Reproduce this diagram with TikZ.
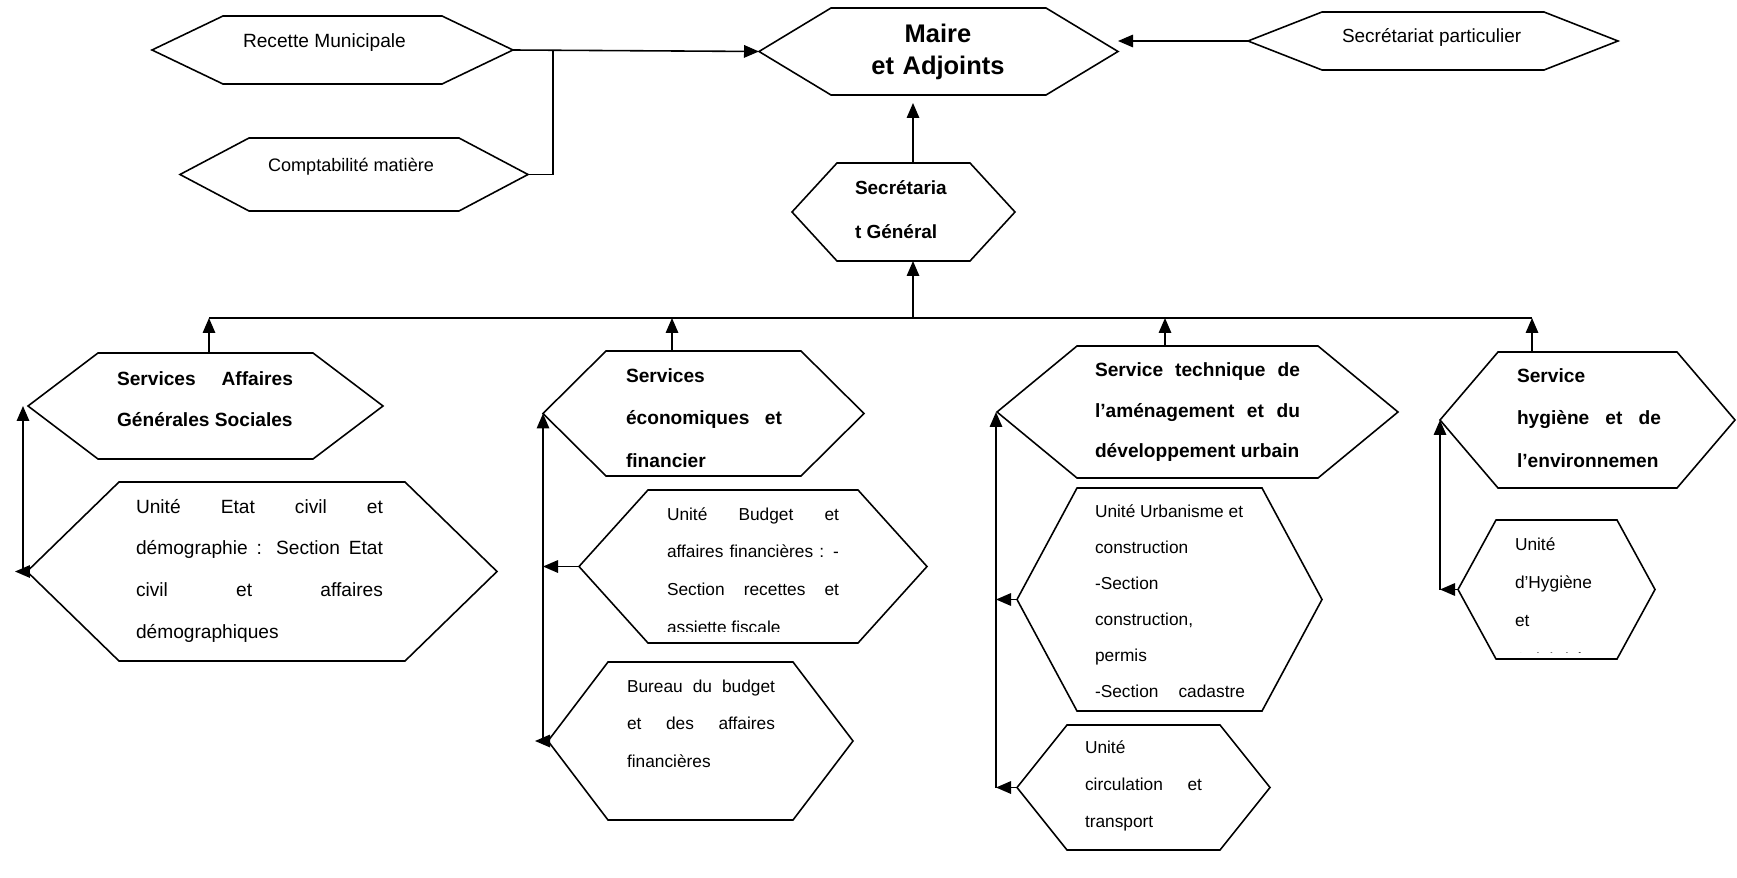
\documentclass[tikz,border=0pt]{standalone}
\usepackage{fontspec}
\setmainfont{Liberation Sans}
\usetikzlibrary{arrows.meta}
\usetikzlibrary{calc}
\usetikzlibrary{fit}
\hyphenpenalty=10000
\exhyphenpenalty=10000

\tikzset{
	frame/.style={inner sep=0pt,outer sep=0pt},
	line/.style={line width=0.9pt},
	arr/.style={line,-{Triangle[length=0.3cm,width=0.25cm]}},
	txt/.style={inner sep=0pt,outer sep=0pt,anchor=base west,align=justify},
	plain/.style={txt,text width=5cm,font=\fontsize{10.8pt}{13pt}\selectfont},
	head/.style={txt,font=\bfseries\fontsize{10.9pt}{23.9pt}\selectfont},
	unit/.style={txt,font=\fontsize{9.85pt}{21.6pt}\selectfont},
}

\begin{document}
\begin{tikzpicture}[x=0.02cm,y=-0.02cm]
	\useasboundingbox (0,0) rectangle (1737,878);

	% hexagon frames
	\node[frame,fit={(152,16) (513,84)}] (recette) {};
	\node[frame,fit={(180,138) (528,211)}] (compta) {};
	\node[frame,fit={(759,8) (1118,95)}] (maire) {};
	\node[frame,fit={(1248,12) (1618,70)}] (partic) {};
	\node[frame,fit={(792,163) (1015,261)}] (sg) {};
	\node[frame,fit={(28,353) (383,459)}] (sags) {};
	\node[frame,fit={(27,482) (497,661)}] (etat) {};
	\node[frame,fit={(543,351) (864,476)}] (sef) {};
	\node[frame,fit={(579,490) (927,643)}] (budget) {};
	\node[frame,fit={(548,662) (853,820)}] (bureau) {};
	\node[frame,fit={(997,346) (1398,478)}] (stadu) {};
	\node[frame,fit={(1017,488) (1322,711)}] (urba) {};
	\node[frame,fit={(1017,725) (1270,850)}] (circ) {};
	\node[frame,fit={(1440,352) (1735,488)}] (she) {};
	\node[frame,fit={(1458,520) (1655,659)}] (hyg) {};

	\foreach \n/\d in {recette/71,compta/69,maire/72,partic/74,sg/45,sags/70,etat/92,sef/63,budget/69,bureau/60,stadu/80,urba/60,circ/50,she/58,hyg/38}
		\draw[line] (\n.west) -- ($(\n.north west)+(\d,0)$) -- ($(\n.north east)-(\d,0)$) -- (\n.east) -- ($(\n.south east)-(\d,0)$) -- ($(\n.south west)+(\d,0)$) -- cycle;

	% texts
	\node[plain,font=\fontsize{10.9pt}{13pt}\selectfont] (recette-t) at (243,48) {Recette Municipale};
	\node[plain,font=\fontsize{10.3pt}{13pt}\selectfont] (compta-t) at (268,172) {Comptabilité matière};
	\node[txt,anchor=base,align=center,text width=6cm,font=\bfseries\fontsize{14.5pt}{18.2pt}\selectfont] (maire-t) at (938,43) {Maire\\et Adjoints};
	\node[plain] (partic-t) at (1342,43) {Secrétariat particulier};
	\node[head,text width=3cm,font=\bfseries\fontsize{10.8pt}{24.5pt}\selectfont] (sg-t) at (855,195) {Secrétaria\\t Général};

	\node[head,text width=3.52cm] (sags-t) at (117,385) {Services Affaires\linebreak Générales Sociales};
	\node[txt,text width=4.94cm,font=\fontsize{10.9pt}{23.9pt}\selectfont] (etat-t) at (136,513) {Unité Etat civil et\linebreak démographie : Section Etat\linebreak civil et affaires\linebreak démographiques};

	\node[head,text width=3.12cm,font=\bfseries\fontsize{10.9pt}{24.2pt}\selectfont] (sef-t) at (626,382) {Services\\économiques et\linebreak financier};
	\begin{scope}
		\clip (600,480) rectangle (900,631);
		\node[unit,text width=3.44cm] (budget-t) at (667,520) {Unité Budget et\linebreak affaires financières : -\linebreak Section recettes et\linebreak assiette fiscale};
	\end{scope}
	\node[unit,text width=2.96cm] (bureau-t) at (627,692) {Bureau du budget\linebreak et des affaires\linebreak financières};

	\node[head,text width=4.1cm,font=\bfseries\fontsize{10.9pt}{22.8pt}\selectfont] (stadu-t) at (1095,377) {Service technique de\linebreak l’aménagement et du\linebreak développement urbain};
	\node[unit,text width=3cm,font=\fontsize{9.85pt}{20.5pt}\selectfont] (urba-t) at (1095,517) {Unité Urbanisme et\\construction\\-Section\\construction,\\permis\\-Section\hfill cadastre};
	\node[unit,text width=2.34cm,font=\fontsize{9.85pt}{21.1pt}\selectfont] (circ-t) at (1085,753) {Unité\\circulation et\linebreak transport};

	\node[head,text width=2.88cm,font=\bfseries\fontsize{10.9pt}{24.2pt}\selectfont] (she-t) at (1517,382) {Service\\hygiène et de\linebreak l’environnemen};
	\begin{scope}
		\clip (1480,520) rectangle (1640,652);
		\node[unit,text width=2.4cm,font=\fontsize{9.85pt}{21.9pt}\selectfont] (hyg-t) at (1515,550) {Unité\\d’Hygiène\\et\\Salubrité};
	\end{scope}

	% top links
	\coordinate (rj) at ($(recette.east)+(40,0)$);
	\draw[arr] (recette.east) -- (maire.west);
	\draw[line] (compta.east) -| (rj);
	\draw[arr] (partic.west) -- (partic.west -| maire.east);

	% bus
	\foreach \n/\x in {sags/209,sef/672,stadu/1165,she/1532}{
		\coordinate (\n-up) at (\x,318);
		\draw[arr] (\n-up |- \n.north) -- (\n-up);
	}
	\draw[line] (sags-up) -- (she-up);
	\coordinate (bus) at (913,318);
	\draw[arr] (bus) -- (bus |- sg.south);
	\draw[arr] (bus |- sg.north) -- ($(bus |- maire.south)+(0,8)$);

	% side links
	\foreach \s/\u/\x in {sags/etat/23,sef/bureau/543,stadu/circ/996,she/hyg/1440}{
		\coordinate (\s-v) at (\x,0);
		\draw[arr] (\s-v |- \u.west) -- (\s-v |- \s.west);
	}
	\foreach \u/\s/\o in {etat/sags/8,budget/sef/0,bureau/sef/8,urba/stadu/0,circ/stadu/0,hyg/she/0}
		\draw[arr] (\u.west) -- ($(\s-v |- \u.west)-(\o,0)$);
\end{tikzpicture}
\end{document}
